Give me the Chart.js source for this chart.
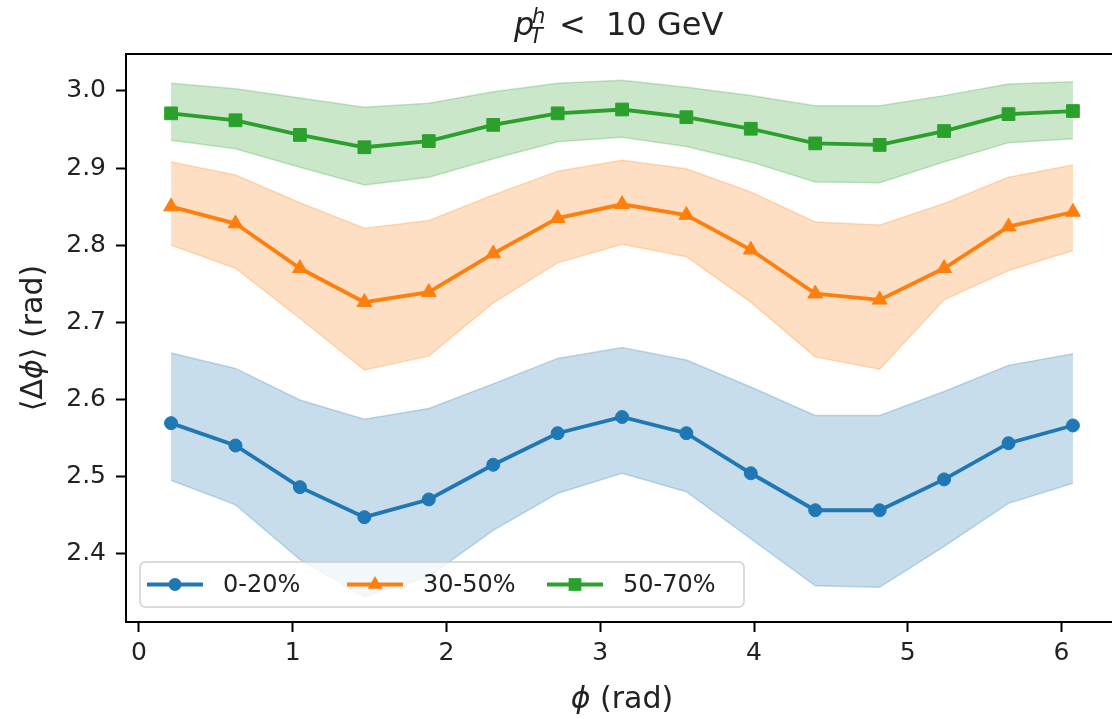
<!DOCTYPE html>
<html>
<head>
<meta charset="utf-8">
<script src="https://cdn.jsdelivr.net/npm/chart.js@4.4.0/dist/chart.umd.min.js"></script>
<style>
    html, body { margin: 0; padding: 0; background: #fff; overflow: hidden; width: 1112px; height: 719px; }
    #wrap { width: 1112px; height: 719px; overflow: hidden; position: relative; }
    #chart { position: absolute; left: 0; top: 0; }
</style>
</head>
<body>
<div id="wrap"><canvas id="chart" width="1121" height="719"></canvas></div>
<script>
// <Δφ> vs φ for three centrality classes, with uncertainty bands

// bin centres in φ (rad)
const phi = [0.209, 0.628, 1.047, 1.466, 1.885, 2.304, 2.723, 3.142, 3.560, 3.979, 4.398, 4.817, 5.236, 5.655, 6.074];

const labels = ['0-20%', '30-50%', '50-70%'];

// 0-20%
const cent0Mean  = [2.569, 2.540, 2.486, 2.447, 2.470, 2.515, 2.556, 2.577, 2.556, 2.504, 2.456, 2.456, 2.496, 2.543, 2.566];
const cent0Upper = [2.660, 2.640, 2.599, 2.574, 2.588, 2.620, 2.653, 2.667, 2.651, 2.616, 2.579, 2.579, 2.610, 2.644, 2.659];
const cent0Lower = [2.495, 2.463, 2.392, 2.344, 2.370, 2.430, 2.478, 2.504, 2.480, 2.419, 2.358, 2.356, 2.409, 2.465, 2.491];

// 30-50%
const cent1Mean  = [2.850, 2.828, 2.770, 2.726, 2.739, 2.789, 2.835, 2.853, 2.839, 2.794, 2.737, 2.729, 2.770, 2.824, 2.843];
const cent1Upper = [2.908, 2.891, 2.855, 2.822, 2.832, 2.865, 2.896, 2.910, 2.899, 2.869, 2.830, 2.826, 2.854, 2.888, 2.904];
const cent1Lower = [2.800, 2.770, 2.705, 2.638, 2.656, 2.725, 2.777, 2.801, 2.785, 2.726, 2.655, 2.639, 2.729, 2.767, 2.793];

// 50-70%
const cent2Mean  = [2.971, 2.962, 2.943, 2.927, 2.935, 2.956, 2.971, 2.976, 2.966, 2.951, 2.932, 2.930, 2.948, 2.970, 2.974];
const cent2Upper = [3.010, 3.003, 2.991, 2.979, 2.984, 2.999, 3.010, 3.014, 3.005, 2.994, 2.981, 2.981, 2.994, 3.009, 3.012];
const cent2Lower = [2.936, 2.925, 2.901, 2.878, 2.888, 2.912, 2.934, 2.940, 2.928, 2.908, 2.882, 2.881, 2.908, 2.933, 2.938];

const xTicks = [0, 1, 2, 3, 4, 5, 6];
const yTicks = [2.4, 2.5, 2.6, 2.7, 2.8, 2.9, 3.0];

const FONT = 'DejaVu Sans';
const TEXT = '#222';
const colors = ['#1f77b4', '#ff7f0e', '#2ca02c'];
const markers = ['circle', 'triangle', 'rect'];
const markerRadius = [6.5, 8.5, 9];

function xy(values) {
    return phi.map((x, i) => ({ x: x, y: values[i] }));
}

function fade(hex, a) {
    const n = parseInt(hex.slice(1), 16);
    return `rgba(${(n >> 16) & 255}, ${(n >> 8) & 255}, ${n & 255}, ${a})`;
}

function band(values, color, fill) {
    return {
        data: xy(values),
        fill: fill,
        backgroundColor: fade(color, 0.25),
        borderColor: fade(color, 0.25),
        borderWidth: 1.5,
        pointRadius: 0,
        tension: 0,
        order: 10
    };
}

function line(values, i) {
    return {
        label: labels[i],
        data: xy(values),
        borderColor: colors[i],
        backgroundColor: colors[i],
        borderWidth: 3.8,
        pointStyle: markers[i],
        pointRadius: markerRadius[i],
        pointBackgroundColor: colors[i],
        pointBorderColor: colors[i],
        pointBorderWidth: 1,
        fill: false,
        tension: 0,
        order: 1
    };
}

const datasets = [
    band(cent0Upper, colors[0], '+1'), band(cent0Lower, colors[0], false),
    band(cent1Upper, colors[1], '+1'), band(cent1Lower, colors[1], false),
    band(cent2Upper, colors[2], '+1'), band(cent2Lower, colors[2], false),
    line(cent0Mean, 0), line(cent1Mean, 1), line(cent2Mean, 2)
];

// Top/right spines, title, axis labels
const framePlugin = {
    id: 'frame',
    afterDraw(chart) {
        const { ctx, chartArea: a } = chart;
        ctx.save();
        ctx.strokeStyle = '#000';
        ctx.lineWidth = 2;
        ctx.beginPath();
        ctx.moveTo(a.left, a.top);
        ctx.lineTo(a.right, a.top);
        ctx.lineTo(a.right, a.bottom);
        ctx.stroke();

        const cx = (a.left + a.right) / 2;
        ctx.fillStyle = TEXT;
        ctx.textBaseline = 'alphabetic';
        ctx.textAlign = 'left';

        // title: p_T^h <  10 GeV
        const x0 = cx - 108;
        ctx.font = `italic 32px "${FONT}"`;
        ctx.fillText('p', x0, 35);
        ctx.font = `italic 21px "${FONT}"`;
        ctx.fillText('h', x0 + 18, 23);
        ctx.fillText('T', x0 + 16, 43);
        ctx.font = `32px "${FONT}"`;
        ctx.fillText('<', x0 + 45, 35);
        ctx.fillText('10 GeV', x0 + 92, 35);

        // x label
        ctx.font = `italic 30px "${FONT}"`;
        const wPhi = ctx.measureText('\u03d5').width;
        ctx.font = `30px "${FONT}"`;
        const wRad = ctx.measureText(' (rad)').width;
        const xs = cx - (wPhi + wRad) / 2;
        ctx.font = `italic 30px "${FONT}"`;
        ctx.fillText('\u03d5', xs, 708);
        ctx.font = `30px "${FONT}"`;
        ctx.fillText(' (rad)', xs + wPhi, 708);

        // y label
        const cy = (a.top + a.bottom) / 2;
        ctx.translate(42, cy);
        ctx.rotate(-Math.PI / 2);
        const parts = [['\u27e8\u0394', ''], ['\u03d5', 'italic '], ['\u27e9 (rad)', '']];
        let total = 0;
        parts.forEach(p => { ctx.font = `${p[1]}30px "${FONT}"`; total += ctx.measureText(p[0]).width; });
        let px = -total / 2;
        parts.forEach(p => {
            ctx.font = `${p[1]}30px "${FONT}"`;
            ctx.fillText(p[0], px, 0);
            px += ctx.measureText(p[0]).width;
        });
        ctx.restore();
    }
};

function drawMarker(ctx, style, x, y, r) {
    ctx.beginPath();
    if (style === 'circle') {
        ctx.arc(x, y, r, 0, Math.PI * 2);
    } else if (style === 'triangle') {
        ctx.moveTo(x, y - r);
        ctx.lineTo(x + r * 0.866, y + r * 0.5);
        ctx.lineTo(x - r * 0.866, y + r * 0.5);
        ctx.closePath();
    } else {
        const s = r * Math.SQRT1_2;
        ctx.rect(x - s, y - s, 2 * s, 2 * s);
    }
    ctx.fill();
}

// matplotlib-style legend in the lower left corner
const legendPlugin = {
    id: 'mplLegend',
    afterDraw(chart) {
        const { ctx, chartArea: a } = chart;
        const left = a.left + 14, top = a.bottom - 60, w = 604, h = 45;
        ctx.save();
        ctx.fillStyle = 'rgba(255,255,255,0.8)';
        ctx.strokeStyle = '#d0d0d0';
        ctx.lineWidth = 1.5;
        ctx.beginPath();
        ctx.roundRect(left, top, w, h, 5);
        ctx.fill();
        ctx.stroke();

        const cy = top + h / 2;
        labels.forEach((lab, i) => {
            const hx = left + 7 + i * 200;
            ctx.strokeStyle = colors[i];
            ctx.fillStyle = colors[i];
            ctx.lineWidth = 3.8;
            ctx.beginPath();
            ctx.moveTo(hx, cy);
            ctx.lineTo(hx + 56, cy);
            ctx.stroke();
            drawMarker(ctx, markers[i], hx + 28, cy, markerRadius[i]);
            ctx.fillStyle = TEXT;
            ctx.font = `24px "${FONT}"`;
            ctx.textBaseline = 'middle';
            ctx.fillText(lab, hx + 76, cy + 1);
        });
        ctx.restore();
    }
};

new Chart(document.getElementById('chart'), {
    type: 'line',
    data: { datasets: datasets },
    plugins: [framePlugin, legendPlugin],
    options: {
        responsive: false,
        animation: false,
        devicePixelRatio: 1,
        events: [],
        layout: { autoPadding: false, padding: { top: 54, left: 0, right: 3, bottom: 0 } },
        plugins: {
            legend: { display: false },
            tooltip: { enabled: false },
            title: { display: false }
        },
        scales: {
            x: {
                type: 'linear',
                min: -0.084,
                max: 6.367,
                afterBuildTicks: s => { s.ticks = xTicks.map(v => ({ value: v })); },
                afterFit: s => { s.height = 97; },
                grid: { drawOnChartArea: false, drawTicks: true, tickLength: 10, tickWidth: 2, tickColor: '#000' },
                border: { display: true, color: '#000', width: 2 },
                ticks: {
                    autoSkip: false,
                    maxRotation: 0,
                    padding: 6,
                    color: TEXT,
                    font: { family: FONT, size: 25 },
                    callback: v => String(v)
                }
            },
            y: {
                type: 'linear',
                min: 2.311,
                max: 3.048,
                afterBuildTicks: s => { s.ticks = yTicks.map(v => ({ value: v })); },
                afterFit: s => { s.width = 126; },
                grid: { drawOnChartArea: false, drawTicks: true, tickLength: 10, tickWidth: 2, tickColor: '#000' },
                border: { display: true, color: '#000', width: 2 },
                ticks: {
                    autoSkip: false,
                    padding: 10,
                    color: TEXT,
                    font: { family: FONT, size: 25 },
                    callback: v => v.toFixed(1)
                }
            }
        }
    }
});
</script>
</body>
</html>
